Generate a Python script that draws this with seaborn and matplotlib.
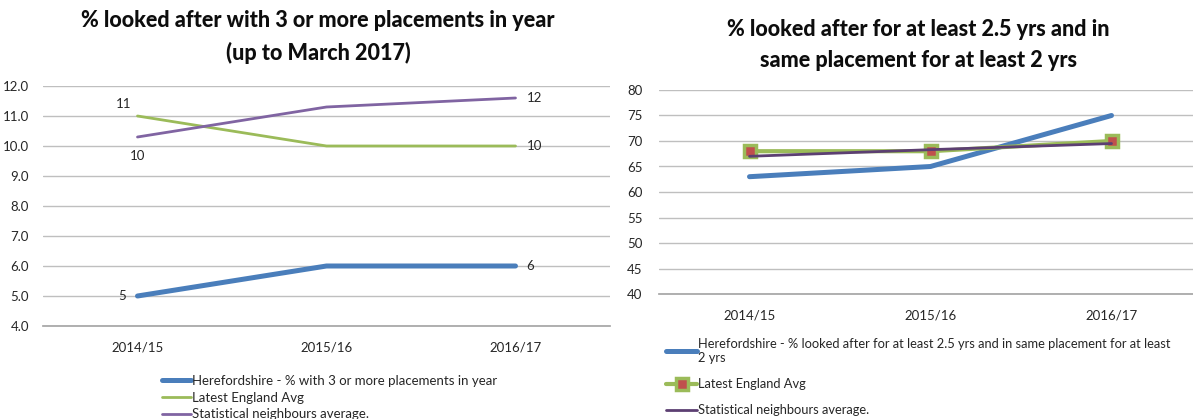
import matplotlib
matplotlib.use("Agg")
import matplotlib.pyplot as plt
import seaborn as sns
import pandas as pd

# ---- data ----
years = ["2014/15", "2015/16", "2016/17"]

# Placement stability: % with 3 or more placements in year
placements_hfd = [5, 6, 6]
placements_eng = [11, 10, 10]
placements_sn = [10.3, 11.3, 11.6]

# Long-term stability: % looked after 2.5 yrs and same placement 2 yrs
longterm_hfd = [63, 65, 75]
longterm_eng = [68, 68, 70]
longterm_sn = [67, 68.3, 69.5]

left_title = "% looked after with 3 or more placements in year\n(up to March 2017)"
right_title = "% looked after for at least 2.5 yrs and in\nsame placement for at least 2 yrs"
left_labels = ["Herefordshire - % with 3 or more placements in year",
               "Latest England Avg",
               "Statistical neighbours average."]
right_labels = ["Herefordshire - % looked after for at least 2.5 yrs and in same placement for at least\n2 yrs",
                "Latest England Avg",
                "Statistical neighbours average."]

BLUE = "#4a7ebb"
GREEN = "#9bbb59"
PURPLE = "#8064a2"
DARK_PURPLE = "#5c3f72"
RED = "#c0504d"
GRID = "#bfbfbf"
TEXT = "#262626"

sns.set_theme(style="white")
plt.rcParams["font.family"] = ["Lato", "DejaVu Sans"]

fig = plt.figure(figsize=(11.93, 4.19), dpi=100)
W, H = 1193, 419


def axes_px(x0, y0, x1, y1):
    return fig.add_axes([x0 / W, 1 - y1 / H, (x1 - x0) / W, (y1 - y0) / H])


def style_axes(ax, ymin, ymax, step, fmt, ypad):
    ax.set_ylim(ymin, ymax)
    ax.set_xlim(-0.5, 2.5)
    ticks = [ymin + i * step for i in range(int(round((ymax - ymin) / step)) + 1)]
    ax.set_yticks(ticks)
    ax.set_yticklabels([fmt.format(t) for t in ticks], fontsize=9.5, color=TEXT)
    ax.set_xticks([0, 1, 2])
    ax.set_xticklabels(years, fontsize=9.5, color=TEXT)
    ax.set_xticks([-0.5, 0.5, 1.5, 2.5], minor=True)
    ax.tick_params(axis="x", which="major", length=0, pad=11)
    ax.tick_params(axis="x", which="minor", length=5, color="#a6a6a6", width=1)
    ax.tick_params(axis="y", length=0, pad=ypad)
    ax.grid(axis="y", color=GRID, linewidth=1)
    ax.set_axisbelow(True)
    for s in ["top", "right", "left"]:
        ax.spines[s].set_visible(False)
    ax.spines["bottom"].set_color("#a6a6a6")
    ax.set_xlabel("")
    ax.set_ylabel("")


# ---- left panel ----
axL = axes_px(43, 86, 610, 326)
dfL = pd.DataFrame({"year": years, "hfd": placements_hfd,
                    "eng": placements_eng, "sn": placements_sn})
sns.lineplot(data=dfL, x="year", y="hfd", ax=axL, color=BLUE, linewidth=3.6,
             label=left_labels[0], sort=False)
sns.lineplot(data=dfL, x="year", y="eng", ax=axL, color=GREEN, linewidth=2,
             label=left_labels[1], sort=False)
sns.lineplot(data=dfL, x="year", y="sn", ax=axL, color=PURPLE, linewidth=2,
             label=left_labels[2], sort=False)
style_axes(axL, 4.0, 12.0, 1.0, "{:.1f}", 10)


def lab(ax, x, y, text, dx, dy, ha="center"):
    ax.annotate(text, (x, y), xytext=(dx, dy), textcoords="offset points",
                ha=ha, va="center", fontsize=9.5, color=TEXT)


lab(axL, 0, placements_hfd[0], f"{placements_hfd[0]:.0f}", -8, 0, "right")
lab(axL, 2, placements_hfd[2], f"{placements_hfd[2]:.0f}", 8, 0, "left")
lab(axL, 0, placements_eng[0], f"{placements_eng[0]:.0f}", -10, 9, "center")
lab(axL, 2, placements_eng[2], f"{placements_eng[2]:.0f}", 8, 0, "left")
lab(axL, 0, placements_sn[0], f"{placements_sn[0]:.0f}", 0, -14, "center")
lab(axL, 2, placements_sn[2], f"{placements_sn[2]:.0f}", 8, 0, "left")

fig.text(318 / W, 1 - 37 / H, left_title, ha="center", va="center",
         fontsize=15.5, fontweight="black", color="#0d0d0d", linespacing=1.55)

legL = axL.legend(loc="upper left", bbox_to_anchor=(162 / W, 1 - 375 / H),
                  bbox_transform=fig.transFigure, frameon=False, fontsize=9.5,
                  handlelength=2.2, handletextpad=0.1, labelspacing=0.35,
                  borderaxespad=0, borderpad=0)
for t in legL.get_texts():
    t.set_color(TEXT)

# ---- right panel ----
axR = axes_px(659, 90, 1202, 294)
dfR = pd.DataFrame({"year": years, "hfd": longterm_hfd,
                    "eng": longterm_eng, "sn": longterm_sn})
sns.lineplot(data=dfR, x="year", y="hfd", ax=axR, color=BLUE, linewidth=3.6,
             label=right_labels[0], sort=False)
sns.lineplot(data=dfR, x="year", y="eng", ax=axR, color=GREEN, linewidth=3,
             marker="s", markersize=9, markerfacecolor=RED,
             markeredgecolor=GREEN, markeredgewidth=2.5,
             label=right_labels[1], sort=False)
sns.lineplot(data=dfR, x="year", y="sn", ax=axR, color=DARK_PURPLE, linewidth=2,
             label=right_labels[2], sort=False)
style_axes(axR, 40, 80, 5, "{:.0f}", 12)

fig.text(918 / W, 1 - 45 / H, right_title, ha="center", va="center",
         fontsize=15.5, fontweight="black", color="#0d0d0d", linespacing=1.55)

legR = axR.legend(loc="upper left", bbox_to_anchor=(666 / W, 1 - 338 / H),
                  bbox_transform=fig.transFigure, frameon=False, fontsize=9.3,
                  handlelength=2.4, handletextpad=0.1, labelspacing=1.1,
                  borderaxespad=0, borderpad=0)
for t in legR.get_texts():
    t.set_color(TEXT)

fig.savefig("out.png", dpi=100)
